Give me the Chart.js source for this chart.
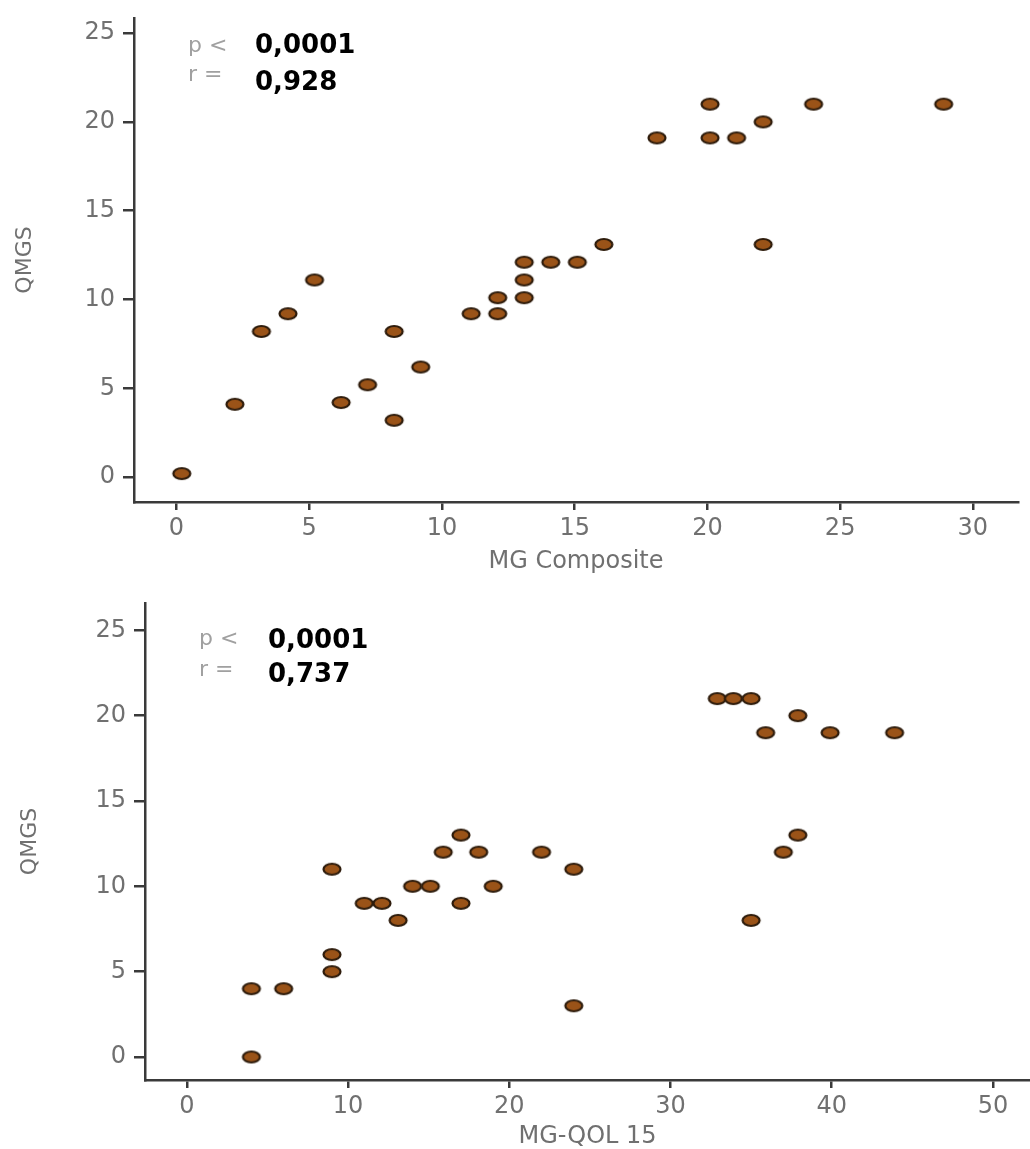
<!DOCTYPE html>
<html lang="en">
<head>
    <meta charset="UTF-8">
    <title>QMGS correlations</title>
    <script src="https://cdn.jsdelivr.net/npm/chart.js"></script>
    <style>
        body { margin: 0; background: #fff; }
        .panel { position: absolute; left: 0; }
        #panelTop { top: 0; }
        #panelBottom { top: 590px; }
    </style>
</head>
<body>
    <div class="panel" id="panelTop"><canvas id="chartTop" width="1030" height="590"></canvas></div>
    <div class="panel" id="panelBottom"><canvas id="chartBottom" width="1030" height="559"></canvas></div>
    <script>
        // Top panel: QMGS vs MG Composite
        const mgComposite = [0.2, 2.2, 3.2, 4.2, 5.2, 6.2, 7.2, 8.2, 8.2, 9.2, 11.1, 12.1, 12.1, 13.1, 13.1, 13.1, 14.1, 15.1, 16.1, 18.1, 20.1, 20.1, 21.1, 22.1, 22.1, 24.0, 28.9];
        const qmgsTop =     [0.2, 4.1, 8.2, 9.2, 11.1, 4.2, 5.2, 8.2, 3.2, 6.2, 9.2, 9.2, 10.1, 10.1, 11.1, 12.1, 12.1, 12.1, 13.1, 19.1, 21.0, 19.1, 19.1, 20.0, 13.1, 21.0, 21.0];

        // Bottom panel: QMGS vs MG-QOL 15
        const mgQol15 =    [4, 4, 6, 9, 9, 9, 11, 12.1, 13.1, 14, 15.1, 15.9, 17, 17, 18.1, 19, 22, 24, 24, 32.9, 33.9, 35, 35, 35.9, 37, 37.9, 37.9, 39.9, 43.9];
        const qmgsBottom = [0, 4, 4, 5, 6, 11, 9, 9, 8, 10, 10, 12, 13, 9, 12, 10, 12, 11, 3, 21, 21, 21, 8, 19, 12, 20, 13, 19, 19];

        const xTicksTop = [0, 5, 10, 15, 20, 25, 30];
        const xTicksBottom = [0, 10, 20, 30, 40, 50];
        const yTicks = [0, 5, 10, 15, 20, 25];

        const axisColor = '#3a3a3a';
        const labelColor = '#707070';
        const fontFamily = '"DejaVu Sans", sans-serif';

        // oval marker, the source figure is drawn wider than tall
        function makeMarker() {
            const c = document.createElement('canvas');
            c.width = 22; c.height = 15;
            const g = c.getContext('2d');
            g.beginPath();
            g.ellipse(11, 7.5, 8.5, 5.5, 0, 0, Math.PI * 2);
            g.fillStyle = '#9a5318';
            g.fill();
            g.lineWidth = 2.2;
            g.strokeStyle = '#2e1c0c';
            g.stroke();
            return c;
        }
        const marker = makeMarker();

        const statText = {
            id: 'statText',
            afterDraw(chart, args, opts) {
                const ctx = chart.ctx;
                ctx.save();
                ctx.textBaseline = 'middle';
                ctx.textAlign = 'left';
                for (const t of opts.items) {
                    ctx.font = t.font;
                    ctx.fillStyle = t.color;
                    ctx.fillText(t.text, t.x, t.y);
                }
                ctx.restore();
            }
        };

        function pairs(xs, ys) {
            return xs.map((x, i) => ({ x: x, y: ys[i] }));
        }

        function makeChart(id, cfg) {
            return new Chart(document.getElementById(id), {
                type: 'scatter',
                data: {
                    datasets: [{
                        data: pairs(cfg.xs, cfg.ys),
                        pointStyle: marker,
                        pointRadius: 8
                    }]
                },
                options: {
                    responsive: false,
                    animation: false,
                    layout: { padding: cfg.padding, autoPadding: false },
                    plugins: {
                        legend: { display: false },
                        tooltip: { enabled: false },
                        statText: { items: cfg.stats }
                    },
                    scales: {
                        x: {
                            type: 'linear',
                            min: cfg.xMin,
                            max: cfg.xMax,
                            afterBuildTicks: s => { s.ticks = cfg.xTicks.map(v => ({ value: v })); },
                            afterFit: s => { s.height = cfg.xHeight; s.paddingLeft = 0; s.paddingRight = 0; },
                            grid: { drawOnChartArea: false, drawTicks: true, tickLength: 8, color: axisColor, lineWidth: 2.5 },
                            border: { display: true, color: axisColor, width: 2.5 },
                            ticks: { color: labelColor, padding: 4, font: { family: fontFamily, size: 24 } },
                            title: {
                                display: true,
                                text: cfg.xTitle,
                                color: labelColor,
                                font: { family: fontFamily, size: 24, lineHeight: 1 },
                                padding: { top: 0, bottom: cfg.xTitlePad }
                            }
                        },
                        y: {
                            type: 'linear',
                            min: cfg.yMin,
                            max: cfg.yMax,
                            afterBuildTicks: s => { s.ticks = yTicks.map(v => ({ value: v })); },
                            afterFit: s => { s.width = cfg.yWidth; s.paddingTop = 0; s.paddingBottom = 0; },
                            grid: { drawOnChartArea: false, drawTicks: true, tickLength: 11, color: axisColor, lineWidth: 2.5 },
                            border: { display: true, color: axisColor, width: 2.5 },
                            ticks: { color: labelColor, padding: 8, font: { family: fontFamily, size: 24 } },
                            title: {
                                display: true,
                                text: 'QMGS',
                                color: labelColor,
                                font: { family: fontFamily, size: 22, lineHeight: 1 },
                                padding: { top: cfg.yTitlePad, bottom: 0 }
                            }
                        }
                    }
                },
                plugins: [statText]
            });
        }

        const grey = '22px ' + fontFamily;
        const bold = 'bold 26px ' + fontFamily;

        makeChart('chartTop', {
            xs: mgComposite, ys: qmgsTop,
            xMin: -1.6, xMax: 31.7, yMin: -1.4, yMax: 25.85,
            xTicks: xTicksTop, xTitle: 'MG Composite',
            padding: { top: 18, right: 12, left: 0, bottom: 0 },
            xHeight: 88, yWidth: 134, xTitlePad: 16, yTitlePad: 14,
            stats: [
                { text: 'p <', x: 188, y: 46, font: grey, color: '#a0a0a0' },
                { text: 'r =', x: 188, y: 75, font: grey, color: '#a0a0a0' },
                { text: '0,0001', x: 255, y: 46, font: bold, color: '#000' },
                { text: '0,928', x: 255, y: 83, font: bold, color: '#000' }
            ]
        });

        makeChart('chartBottom', {
            xs: mgQol15, ys: qmgsBottom,
            xMin: -2.6, xMax: 52.3, yMin: -1.35, yMax: 26.6,
            xTicks: xTicksBottom, xTitle: 'MG-QOL 15',
            padding: { top: 13, right: 0, left: 0, bottom: 0 },
            xHeight: 69, yWidth: 145, xTitlePad: 0, yTitlePad: 19,
            stats: [
                { text: 'p <', x: 199, y: 49, font: grey, color: '#a0a0a0' },
                { text: 'r =', x: 199, y: 80, font: grey, color: '#a0a0a0' },
                { text: '0,0001', x: 268, y: 51, font: bold, color: '#000' },
                { text: '0,737', x: 268, y: 85, font: bold, color: '#000' }
            ]
        });
    </script>
</body>
</html>
